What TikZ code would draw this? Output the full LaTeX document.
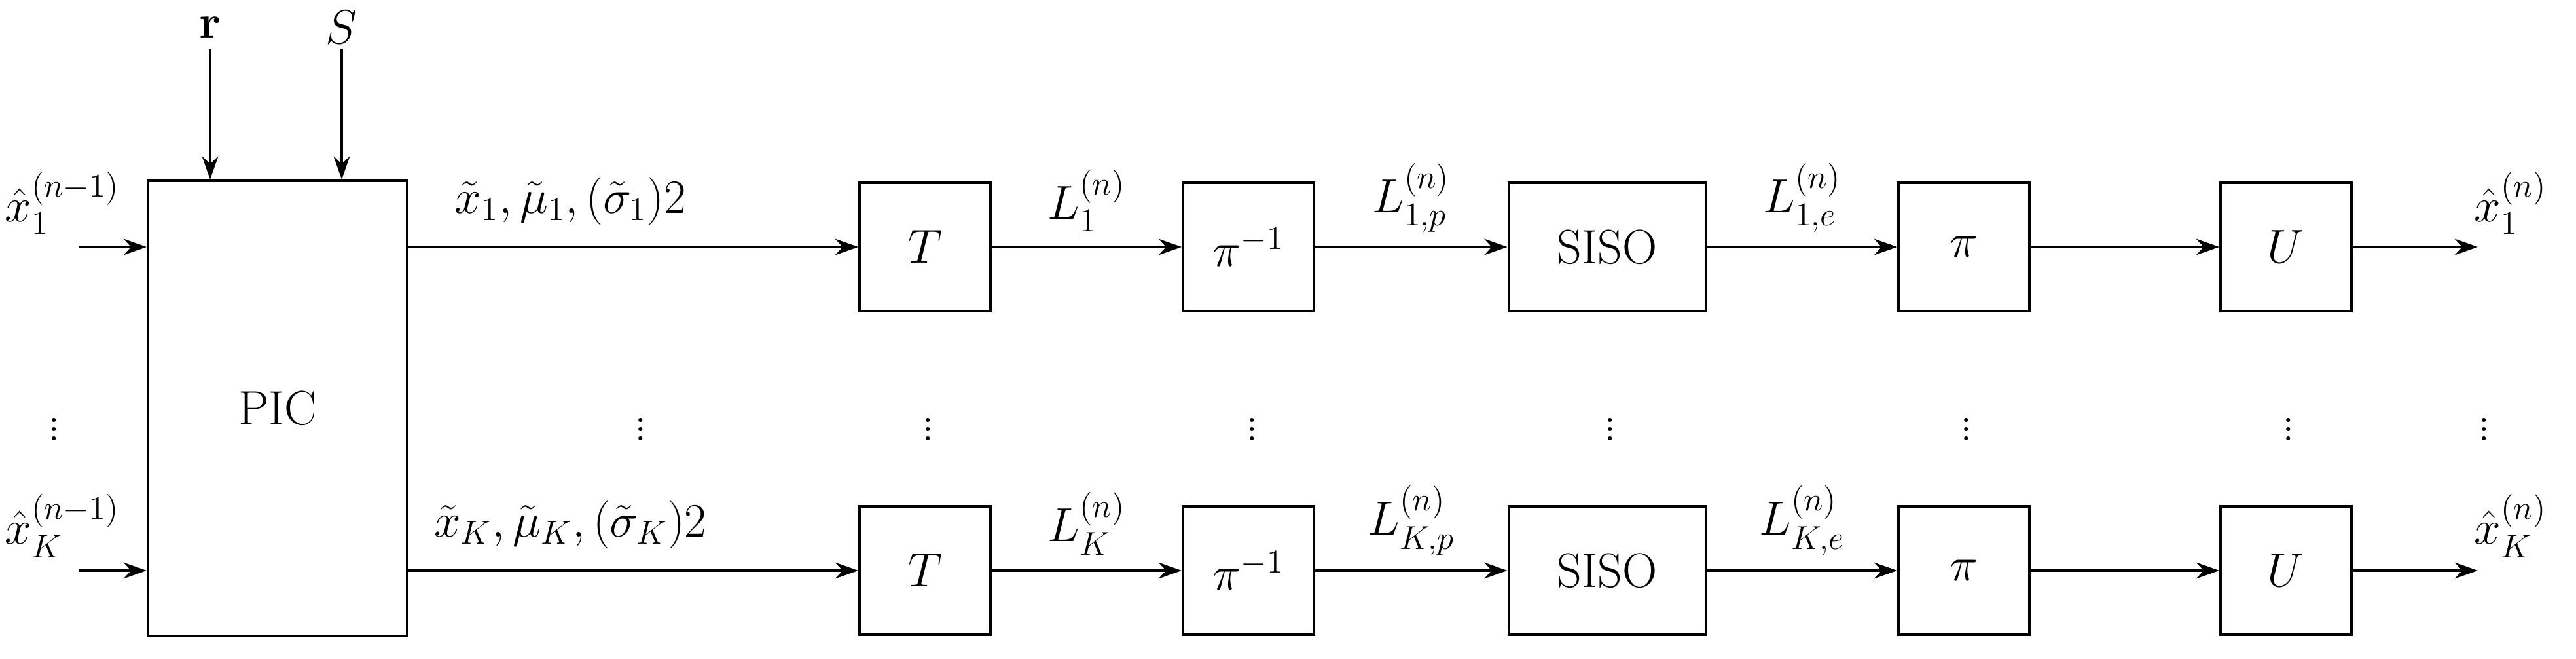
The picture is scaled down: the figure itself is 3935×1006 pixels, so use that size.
\documentclass[tikz,border=0pt]{standalone}
\usepackage{amsmath}
\usetikzlibrary{arrows.meta}
\begin{document}
\begin{tikzpicture}[x=0.01cm,y=-0.01cm,line width=1.1pt,
  blk/.style={draw,line width=1.1pt,inner sep=0pt,font=\fontsize{21}{24}\selectfont},
  arr/.style={-{Stealth[length=10pt,width=7pt]}},
  lab/.style={font=\fontsize{21}{24}\selectfont,inner sep=1pt},
  dts/.style={font=\fontsize{21}{24}\selectfont}]
\useasboundingbox (0,0) rectangle (3935,1006);
\node[blk,minimum width=3.96cm,minimum height=6.95cm] (pic) at (424,623.5) {PIC};
\coordinate (r0) at (321,75); \coordinate (s0) at (522,75);
\node[lab] at (321,42) {$\mathbf{r}$};
\node[lab] at (522,42) {$S$};
\draw[arr] (r0) -- (r0 |- pic.north);
\draw[arr] (s0) -- (s0 |- pic.north);
\foreach \r/\y/\s in {a/377/1,b/871/K}{
  \coordinate (in\r) at (120,\y);
  \draw[arr] (in\r) -- (pic.west |- in\r);
  \node[lab,anchor=south west] at (2,\y-14) {$\hat{x}_{\s}^{(n-1)}$};
  \node[blk,minimum width=2cm,minimum height=1.96cm] (T\r) at (1413,\y) {$T$};
  \node[blk,minimum width=2cm,minimum height=1.96cm] (P\r) at (1907,\y) {$\pi^{-1}$};
  \node[blk,minimum width=3.01cm,minimum height=1.96cm] (S\r) at (2455,\y) {SISO};
  \node[blk,minimum width=2cm,minimum height=1.96cm] (Q\r) at (3000,\y) {$\pi$};
  \node[blk,minimum width=2cm,minimum height=1.96cm] (U\r) at (3492,\y) {$U$};
  \coordinate (o\r) at (3785,\y);
  \draw[arr] (pic.east |- T\r) -- node[lab,above=8pt,pos=0.36] {$\tilde{x}_{\s},\tilde{\mu}_{\s},(\tilde{\sigma}_{\s})2$} (T\r);
  \draw[arr] (T\r) -- node[lab,above=5pt] {$L_{\s}^{(n)}$} (P\r);
  \draw[arr] (P\r) -- node[lab,above=5pt] {$L_{\s,p}^{(n)}$} (S\r);
  \draw[arr] (S\r) -- node[lab,above=5pt] {$L_{\s,e}^{(n)}$} (Q\r);
  \draw[arr] (Q\r) -- (U\r);
  \draw[arr] (U\r) -- (o\r);
  \node[lab,anchor=south] at (3835,\y-14) {$\hat{x}_{\s}^{(n)}$};
}
\foreach \x in {83,979,1418,1913,2460,3004,3496,3795}
  \node[dts] at (\x,645) {$\vdots$};
\end{tikzpicture}
\end{document}
